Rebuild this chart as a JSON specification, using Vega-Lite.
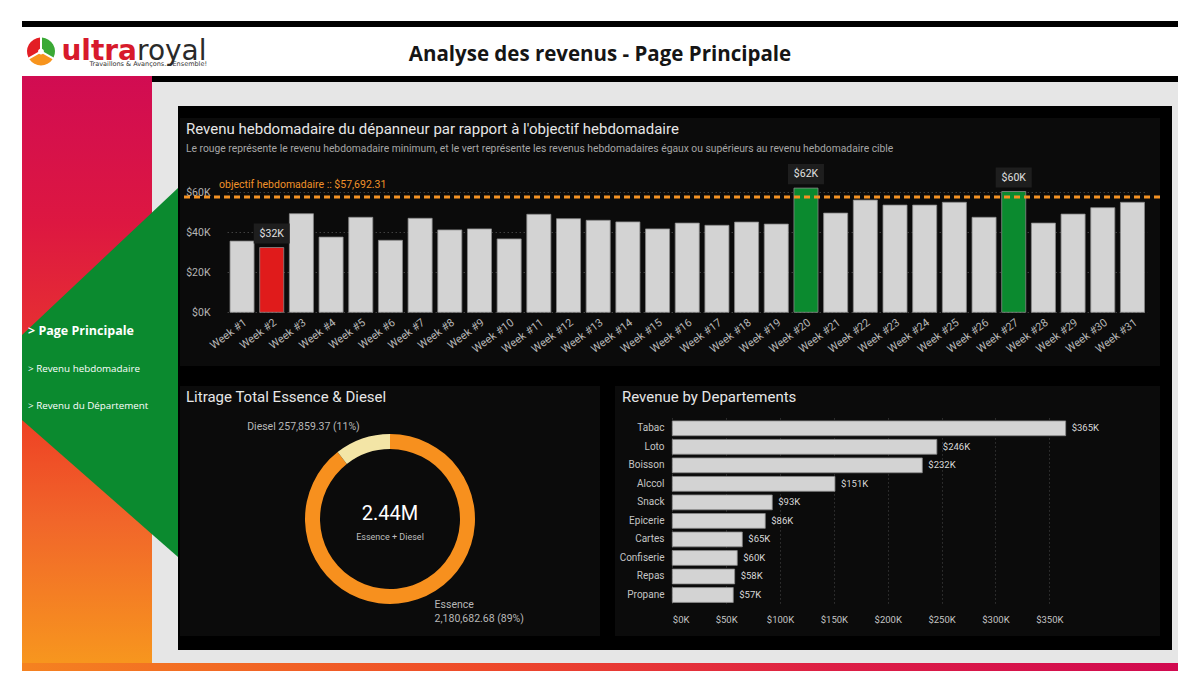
{
"$schema": "https://vega.github.io/schema/vega-lite/v6.json",
"padding": {"left": 22, "top": 21, "right": 22, "bottom": 23},
"background": "#ffffff",
"autosize": {"type": "pad"},
"config": {"view": {"stroke": null}, "font": "Roboto", "concat": {"spacing": 0}},
"resolve": {"scale": {"color": "independent"}},
"datasets": {
"semaines": [
{"semaine": "Week #1", "revenu": 35600}, {"semaine": "Week #2", "revenu": 32400}, {"semaine": "Week #3", "revenu": 49300},
{"semaine": "Week #4", "revenu": 37600}, {"semaine": "Week #5", "revenu": 47500}, {"semaine": "Week #6", "revenu": 36000},
{"semaine": "Week #7", "revenu": 47000}, {"semaine": "Week #8", "revenu": 41200}, {"semaine": "Week #9", "revenu": 41700},
{"semaine": "Week #10", "revenu": 36700}, {"semaine": "Week #11", "revenu": 49000}, {"semaine": "Week #12", "revenu": 46800},
{"semaine": "Week #13", "revenu": 46000}, {"semaine": "Week #14", "revenu": 45200}, {"semaine": "Week #15", "revenu": 41700},
{"semaine": "Week #16", "revenu": 44600}, {"semaine": "Week #17", "revenu": 43500}, {"semaine": "Week #18", "revenu": 45100},
{"semaine": "Week #19", "revenu": 44100}, {"semaine": "Week #20", "revenu": 62100}, {"semaine": "Week #21", "revenu": 49600},
{"semaine": "Week #22", "revenu": 56100}, {"semaine": "Week #23", "revenu": 53600}, {"semaine": "Week #24", "revenu": 53600},
{"semaine": "Week #25", "revenu": 55000}, {"semaine": "Week #26", "revenu": 47500}, {"semaine": "Week #27", "revenu": 60400},
{"semaine": "Week #28", "revenu": 44600}, {"semaine": "Week #29", "revenu": 49100}, {"semaine": "Week #30", "revenu": 52300},
{"semaine": "Week #31", "revenu": 55000}
],
"departements": [
{"departement": "Tabac", "revenu": 365200}, {"departement": "Loto", "revenu": 245600}, {"departement": "Boisson", "revenu": 232100},
{"departement": "Alccol", "revenu": 151000}, {"departement": "Snack", "revenu": 92800}, {"departement": "Epicerie", "revenu": 86300},
{"departement": "Cartes", "revenu": 65000}, {"departement": "Confiserie", "revenu": 60300}, {"departement": "Repas", "revenu": 57900},
{"departement": "Propane", "revenu": 56600}
],
"carburant": [
{"type": "Essence", "litres": 2180682.68, "etiquette": "Essence\n2,180,682.68 (89%)"},
{"type": "Diesel", "litres": 257859.37, "etiquette": "Diesel 257,859.37 (11%)"}
],
"navigation": [{"page": "> Page Principale"}, {"page": "> Revenu hebdomadaire"}, {"page": "> Revenu du Département"}],
"logo": [{"seg": "orange", "v": 1}, {"seg": "rouge", "v": 1}, {"seg": "vert", "v": 1}],
"un": [{}]
},
"spacing": 0,
"vconcat": [
{"width": 1156, "height": 6, "data": {"name": "un"}, "mark": {"type": "rect", "color": "#000000"}},
{"hconcat": [
  {"width": 38, "height": 49, "data": {"name": "logo"},
   "mark": {"type": "arc", "outerRadius": 14, "innerRadius": 3, "padAngle": 0.14},
   "encoding": {
     "theta": {"field": "v", "type": "quantitative", "stack": true, "scale": {"range": [2.0944, 8.3776]}},
     "detail": {"field": "seg"},
     "color": {"condition": [{"test": "datum.seg == 'orange'", "value": "#F7941D"}, {"test": "datum.seg == 'rouge'", "value": "#E31E24"}], "value": "#3AA935"},
     "order": {"field": "seg", "type": "ordinal", "sort": "ascending"}}},
  {"width": 162, "height": 49, "data": {"name": "un"},
   "layer": [
     {"mark": {"type": "text", "text": "ultra", "align": "right", "baseline": "alphabetic", "dx": -4, "dy": 8, "font": "DejaVu Sans", "fontWeight": "bold", "fontSize": 28, "color": "#D71A2B"}},
     {"mark": {"type": "text", "text": "royal", "align": "left", "baseline": "alphabetic", "dx": -4, "dy": 8, "font": "DejaVu Sans", "fontSize": 28, "color": "#2A2A2A"}},
     {"mark": {"type": "text", "text": "Travaillons & Avançons... Ensemble!", "align": "right", "baseline": "alphabetic", "dx": 66, "dy": 14.5, "font": "DejaVu Sans", "fontSize": 6.5, "color": "#333333"}}
   ]},
  {"width": 756, "height": 49, "data": {"name": "un"},
   "mark": {"type": "text", "text": "Analyse des revenus - Page Principale", "font": "Open Sans", "fontSize": 20.5, "fontWeight": "bold", "color": "#151515", "baseline": "middle", "dy": 3}}
 ], "spacing": 0},
{"hconcat": [
  {"width": 130, "height": 587,
   "layer": [
     {"data": {"name": "un"}, "mark": {"type": "rect", "color": {"gradient": "linear", "x1": 0, "y1": 0, "x2": 0, "y2": 1, "stops": [
        {"offset": 0, "color": "#D10C52"}, {"offset": 0.25, "color": "#DD1741"}, {"offset": 0.6, "color": "#EE4425"}, {"offset": 0.76, "color": "#F1662A"}, {"offset": 1, "color": "#F7961E"}]}}},
     {"data": {"name": "un"}, "mark": {"type": "point", "shape": "M-0.365,-0.135L0.495,-0.945L0.495,0.9725L-0.365,0.2175Z", "size": 160000, "filled": true, "color": "#0B8A2F", "opacity": 1, "strokeWidth": 0, "clip": true}},
     {"data": {"name": "navigation"}, "transform": [{"filter": "datum.page == '> Page Principale'"}],
      "mark": {"type": "text", "align": "left", "baseline": "middle", "dx": -59, "font": "Open Sans", "fontSize": 12.5, "fontWeight": "bold", "color": "#FFFFFF"},
      "encoding": {"y": {"field": "page", "type": "nominal", "sort": null, "scale": {"type": "point", "domain": ["> Page Principale", "> Revenu hebdomadaire", "> Revenu du Département"], "range": [255, 330], "padding": 0}, "axis": null}, "text": {"field": "page"}}},
     {"data": {"name": "navigation"}, "transform": [{"filter": "datum.page != '> Page Principale'"}],
      "mark": {"type": "text", "align": "left", "baseline": "middle", "dx": -59, "font": "Open Sans", "fontSize": 9.8, "color": "#FFFFFF"},
      "encoding": {"y": {"field": "page", "type": "nominal", "sort": null, "scale": {"type": "point", "domain": ["> Page Principale", "> Revenu hebdomadaire", "> Revenu du Département"], "range": [255, 330], "padding": 0}, "axis": null}, "text": {"field": "page"}}}
   ]},
  {"vconcat": [
     {"width": 26, "height": 6, "data": {"name": "un"}, "mark": {"type": "rect", "color": "#000000"}},
     {"width": 26, "height": 581, "data": {"name": "un"},
      "layer": [
        {"mark": {"type": "rect", "color": "#E6E6E6"}},
        {"mark": {"type": "point", "shape": "M-0.755,-0.15L0.105,-0.96L0.105,0.9575L-0.755,0.2025Z", "size": 160000, "filled": true, "color": "#0B8A2F", "opacity": 1, "strokeWidth": 0, "clip": true}}
      ]}
   ], "spacing": 0},
  {"vconcat": [
     {"width": 1000, "height": 6, "data": {"name": "un"}, "mark": {"type": "rect", "color": "#000000"}},
     {"width": 1000, "height": 24, "data": {"name": "un"}, "mark": {"type": "rect", "color": "#E6E6E6"}},
     {"hconcat": [
        {"vconcat": [
           {"width": 994, "height": 12, "data": {"name": "un"}, "mark": {"type": "rect", "color": "#000000"}},
           {"hconcat": [
              {"width": 2, "height": 248, "data": {"name": "un"}, "mark": {"type": "rect", "color": "#000000"}},
              {"width": 980, "height": 248, "view": {"fill": "#0B0B0B"},
               "title": {"text": "Revenu hebdomadaire du dépanneur par rapport à l'objectif hebdomadaire", "subtitle": "Le rouge représente le revenu hebdomadaire minimum, et le vert représente les revenus hebdomadaires égaux ou supérieurs au revenu hebdomadaire cible", "anchor": "start", "frame": "group", "dx": 6, "offset": -36.5, "font": "Roboto", "fontSize": 15, "fontWeight": "normal", "color": "#E6E6E6", "subtitleFont": "Roboto", "subtitleFontSize": 10.3, "subtitleColor": "#A6A6A6", "subtitlePadding": 7},
               "data": {"name": "semaines"},
               "transform": [{"joinaggregate": [{"op": "min", "field": "revenu", "as": "minimum"}]}, {"calculate": "'$' + round(datum.revenu/1000) + 'K'", "as": "etiquette"}],
               "layer": [
                 {"mark": {"type": "bar", "stroke": "#8A8A8A", "strokeWidth": 0.8},
                  "encoding": {
                    "x": {"field": "semaine", "type": "nominal", "sort": null, "scale": {"range": [47.2, 967.3], "paddingInner": 0.19, "paddingOuter": 0.095},
                          "axis": {"title": null, "labelAngle": -37, "labelColor": "#B5B5B5", "labelFontSize": 11, "domain": false, "ticks": false, "labelPadding": 4, "offset": -53.7, "grid": false, "labelOverlap": false}},
                    "y": {"field": "revenu", "type": "quantitative", "scale": {"domain": [0, 60000], "range": [194.3, 74.3], "nice": false, "zero": true},
                          "axis": {"title": null, "values": [0, 20000, 40000, 60000], "labelExpr": "'$' + datum.value/1000 + 'K'", "labelColor": "#B5B5B5", "labelFontSize": 10.5, "domain": false, "ticks": false, "labelPadding": 4, "offset": -34, "grid": true, "gridColor": "#5A5A5A", "gridDash": [1, 3]}},
                    "color": {"condition": [{"test": "datum.revenu == datum.minimum", "value": "#E01B1B"}, {"test": "datum.revenu >= 57692.31", "value": "#0B8A2F"}], "value": "#D3D3D3"}}},
                 {"data": {"name": "un"}, "mark": {"type": "rule", "color": "#F39224", "strokeWidth": 3, "strokeDash": [6, 4], "clip": true},
                  "encoding": {"y": {"datum": 57692.31, "type": "quantitative"}}},
                 {"data": {"name": "un"}, "mark": {"type": "text", "text": "objectif hebdomadaire :: $57,692.31", "align": "left", "baseline": "middle", "dx": -23, "dy": -12, "fontSize": 10.5, "color": "#F0922A"},
                  "encoding": {"x": {"datum": "Week #1", "type": "nominal"}, "y": {"datum": 57692.31, "type": "quantitative"}}},
                 {"transform": [{"filter": "datum.revenu == datum.minimum || datum.revenu >= 57692.31"}],
                  "mark": {"type": "point", "shape": "M-1,-0.56L1,-0.56L1,0.56L-1,0.56Z", "size": 1296, "filled": true, "color": "#1E1E1E", "opacity": 1, "strokeWidth": 0, "yOffset": -14},
                  "encoding": {"x": {"field": "semaine", "type": "nominal", "sort": null}, "y": {"field": "revenu", "type": "quantitative"}}},
                 {"transform": [{"filter": "datum.revenu == datum.minimum || datum.revenu >= 57692.31"}],
                  "mark": {"type": "text", "dy": -14, "baseline": "middle", "fontSize": 10.5, "color": "#E0E0E0"},
                  "encoding": {"x": {"field": "semaine", "type": "nominal", "sort": null}, "y": {"field": "revenu", "type": "quantitative"}, "text": {"field": "etiquette"}}}
               ]},
              {"width": 12, "height": 248, "data": {"name": "un"}, "mark": {"type": "rect", "color": "#000000"}}
           ], "spacing": 0},
           {"width": 994, "height": 20, "data": {"name": "un"}, "mark": {"type": "rect", "color": "#000000"}},
           {"hconcat": [
              {"width": 2, "height": 250, "data": {"name": "un"}, "mark": {"type": "rect", "color": "#000000"}},
              {"width": 420, "height": 250, "view": {"fill": "#0B0B0B"},
               "title": {"text": "Litrage Total Essence & Diesel", "anchor": "start", "frame": "group", "dx": 6, "offset": -18.5, "font": "Roboto", "fontSize": 15, "fontWeight": "normal", "color": "#E6E6E6"},
               "data": {"name": "carburant"},
               "layer": [
                 {"mark": {"type": "arc", "outerRadius": 85, "innerRadius": 70, "yOffset": 8},
                  "encoding": {
                    "theta": {"field": "litres", "type": "quantitative", "stack": true},
                    "detail": {"field": "type"},
                    "color": {"condition": {"test": "datum.type == 'Diesel'", "value": "#F3E5A6"}, "value": "#F7901E"},
                    "order": {"field": "type", "type": "ordinal", "sort": "descending"}}},
                 {"transform": [{"stack": "litres", "groupby": [], "sort": [{"field": "type", "order": "descending"}], "as": ["debut", "fin"]}, {"calculate": "(datum.debut + datum.fin) / 2", "as": "milieu"}, {"filter": "datum.type == 'Diesel'"}],
                  "mark": {"type": "text", "radius": 102, "align": "right", "baseline": "middle", "dx": 3, "dy": 4, "yOffset": 8, "fontSize": 10.5, "color": "#B8B8B8"},
                  "encoding": {"theta": {"field": "milieu", "type": "quantitative", "stack": null}, "text": {"field": "etiquette"}}},
                 {"transform": [{"stack": "litres", "groupby": [], "sort": [{"field": "type", "order": "descending"}], "as": ["debut", "fin"]}, {"calculate": "(datum.debut + datum.fin) / 2", "as": "milieu"}, {"filter": "datum.type == 'Essence'"}],
                  "mark": {"type": "text", "radius": 100, "align": "left", "baseline": "middle", "dx": 12, "dy": -9, "yOffset": 8, "lineBreak": "\n", "lineHeight": 14, "fontSize": 10.5, "color": "#B8B8B8"},
                  "encoding": {"theta": {"field": "milieu", "type": "quantitative", "stack": null}, "text": {"field": "etiquette"}}},
                 {"transform": [{"aggregate": [{"op": "sum", "field": "litres", "as": "total"}]}, {"calculate": "format(datum.total, '.3s')", "as": "libelle"}],
                  "mark": {"type": "text", "fontSize": 20, "color": "#FFFFFF", "baseline": "middle", "dy": -5, "yOffset": 8},
                  "encoding": {"text": {"field": "libelle"}}},
                 {"data": {"name": "un"}, "mark": {"type": "text", "text": "Essence + Diesel", "fontSize": 9, "color": "#BDBDBD", "baseline": "middle", "dy": 18, "yOffset": 8}}
               ]},
              {"width": 15, "height": 250, "data": {"name": "un"}, "mark": {"type": "rect", "color": "#000000"}},
              {"width": 545, "height": 250, "view": {"fill": "#0B0B0B"},
               "title": {"text": "Revenue by Departements", "anchor": "start", "frame": "group", "dx": 7, "offset": -18.5, "font": "Roboto", "fontSize": 15, "fontWeight": "normal", "color": "#E6E6E6"},
               "data": {"name": "departements"},
               "transform": [{"calculate": "'$' + round(datum.revenu/1000) + 'K'", "as": "etiquette"}],
               "encoding": {
                 "y": {"field": "departement", "type": "nominal", "sort": null, "scale": {"range": [33.04, 218.26], "paddingInner": 0.2, "paddingOuter": 0.1},
                       "axis": {"title": null, "offset": -53, "domain": false, "ticks": false, "labelPadding": 4, "labelColor": "#C4C4C4", "labelFontSize": 10}},
                 "x": {"field": "revenu", "type": "quantitative", "scale": {"domain": [0, 380000], "range": [57.3, 466.6], "nice": false},
                       "axis": {"title": null, "values": [0, 50000, 100000, 150000, 200000, 250000, 300000, 350000], "labelExpr": "'$' + datum.value/1000 + 'K'", "offset": -24, "domain": false, "ticks": false, "labelPadding": 2, "labelColor": "#C4C4C4", "labelFontSize": 9.5, "grid": true, "gridColor": "#4A4A4A", "gridDash": [1, 3]}}},
               "layer": [
                 {"mark": {"type": "bar", "color": "#D3D3D3", "stroke": "#8A8A8A", "strokeWidth": 0.8}},
                 {"mark": {"type": "text", "align": "left", "baseline": "middle", "dx": 6, "fontSize": 9.5, "color": "#D8D8D8"}, "encoding": {"text": {"field": "etiquette"}}}
               ]},
              {"width": 12, "height": 250, "data": {"name": "un"}, "mark": {"type": "rect", "color": "#000000"}}
           ], "spacing": 0},
           {"width": 994, "height": 14, "data": {"name": "un"}, "mark": {"type": "rect", "color": "#000000"}}
        ], "spacing": 0},
        {"width": 6, "height": 544, "data": {"name": "un"}, "mark": {"type": "rect", "color": "#E6E6E6"}}
     ], "spacing": 0},
     {"width": 1000, "height": 13, "data": {"name": "un"}, "mark": {"type": "rect", "color": "#E6E6E6"}}
  ], "spacing": 0}
 ], "spacing": 0},
{"width": 1156, "height": 8, "data": {"name": "un"}, "mark": {"type": "rect", "color": {"gradient": "linear", "x1": 0, "y1": 0, "x2": 1, "y2": 0, "stops": [
  {"offset": 0, "color": "#F58220"}, {"offset": 0.4, "color": "#EE4A2A"}, {"offset": 0.7, "color": "#DD1F45"}, {"offset": 1, "color": "#D10A50"}]}}}
]
}
